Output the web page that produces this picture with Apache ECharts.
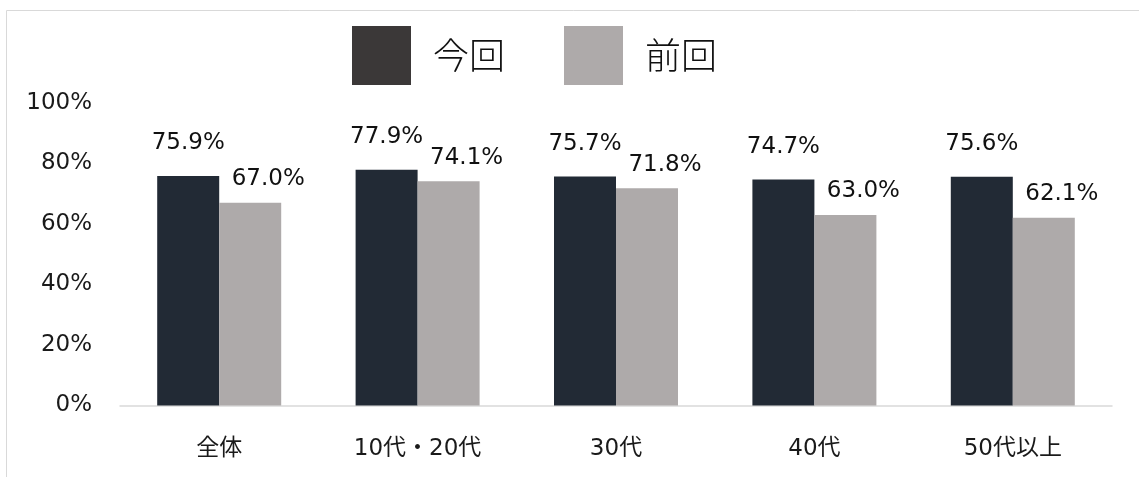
<!DOCTYPE html>
<html><head><meta charset="utf-8">
<script src="https://cdn.jsdelivr.net/npm/echarts@6/dist/echarts.min.js"></script>
<style>html,body{margin:0;padding:0;background:#fff}#c{width:1139px;height:477px}</style>
</head><body><div id="c"></div>
<script>
const categories = ['全体', '10代・20代', '30代', '40代', '50代以上'];
const seriesNames = ['今回', '前回'];
const current = [75.9, 77.9, 75.7, 74.7, 75.6];
const previous = [67.0, 74.1, 71.8, 63.0, 62.1];
const yTicks = [0, 20, 40, 60, 80, 100];

const FONT = '"DejaVu Sans", "Noto Sans CJK JP", sans-serif';
const chart = echarts.init(document.getElementById('c'));
chart.setOption({
  animation: false,
  textStyle: { fontFamily: FONT },
  graphic: [{ type: 'rect', silent: true, z: -10,
    shape: { x: 6.5, y: 10.5, width: 1400, height: 800 },
    style: { fill: 'none', stroke: '#d9d9d9', lineWidth: 1 } }],
  legend: {
    data: [
      { name: seriesNames[0], itemStyle: { color: '#3b3838' } },
      { name: seriesNames[1], itemStyle: { color: '#aeaaaa' } }
    ],
    left: 347, top: 21,
    itemWidth: 59, itemHeight: 59, itemGap: 59,
    icon: 'rect',
    textStyle: { fontSize: 36, color: '#111', fontFamily: '"Noto Sans CJK JP", sans-serif', fontWeight: 300, padding: [0, 0, 0, 17] }
  },
  grid: { left: 120, right: 27, top: 103, bottom: 71.5 },
  xAxis: {
    type: 'category', data: categories,
    axisLine: { lineStyle: { color: '#d9d9d9', width: 1.5 } },
    axisTick: { show: false },
    axisLabel: { fontSize: 23, color: '#1a1a1a', margin: 32, fontFamily: FONT }
  },
  yAxis: {
    type: 'value', min: yTicks[0], max: yTicks[yTicks.length - 1], interval: 20,
    axisLine: { show: false }, axisTick: { show: false }, splitLine: { show: false },
    axisLabel: { fontSize: 23, color: '#1a1a1a', margin: 28, fontFamily: FONT,
      formatter: v => v + '%' }
  },
  series: [
    { name: seriesNames[0], type: 'bar', data: current, barGap: '0%', barCategoryGap: '37.5%',
      itemStyle: { color: '#222a35' },
      label: { show: true, position: 'top', distance: 21, fontSize: 23, color: '#111',
        fontFamily: FONT, formatter: p => p.value.toFixed(1) + '%' } },
    { name: seriesNames[1], type: 'bar', data: previous,
      itemStyle: { color: '#aeaaaa' },
      label: { show: true, position: 'top', distance: 12, offset: [18, 0], fontSize: 23, color: '#111',
        fontFamily: FONT, formatter: p => p.value.toFixed(1) + '%' } }
  ]
});
</script></body></html>
